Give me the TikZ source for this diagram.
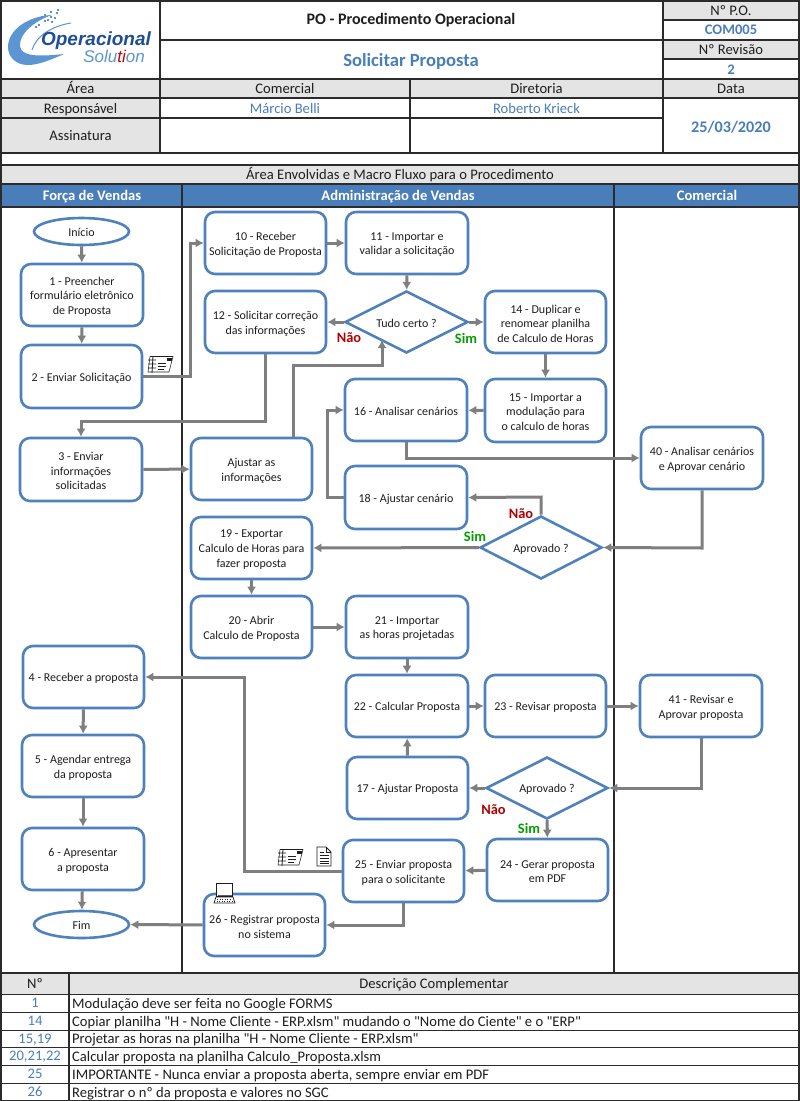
\documentclass[tikz,border=0pt]{standalone}
\usepackage{fontspec}
\setmainfont{Carlito}
\newfontfamily\qfont{Carlito}
\newfontfamily\logofont{Liberation Sans}
\usetikzlibrary{shapes.geometric,arrows.meta,calc}
\definecolor{boxblue}{HTML}{4F81BD}
\definecolor{headblue}{HTML}{4A7EBB}
\definecolor{conn}{HTML}{7F7F7F}
\definecolor{cellgray}{HTML}{E4E4E4}
\definecolor{rule}{HTML}{2B2B2B}
\definecolor{ink}{HTML}{1E1E1E}
\definecolor{logoblue}{HTML}{5B96D2}
\definecolor{logodark}{HTML}{1F4E96}
\newcommand{\fsz}[2]{\fontsize{#1}{#2}\selectfont}
\tikzset{
  x=1pt,y=-1pt,
  flowbox/.style={draw=boxblue,line width=2.6pt,fill=white,rounded corners=10pt,inner sep=0pt},
  flowterm/.style={draw=boxblue,line width=2.6pt,fill=white,ellipse,inner sep=0pt},
  flowdec/.style={draw=boxblue,line width=2.6pt,fill=white,diamond,aspect=1.97,inner sep=0pt},
  flowtext/.style={align=center,inner sep=0pt,text=ink,font=\fsz{12}{14.7}},
  link/.style={draw=conn,line width=3pt,-{Latex[length=8pt,width=9pt]}},
  txtbase/.style={inner sep=0pt,text height=9pt,text depth=3pt,yshift=-1.5pt},
  cell/.style={txtbase,text=ink,font=\fsz{14.6}{17}},
  bluecell/.style={txtbase,text=headblue,font=\fsz{14.6}{17}},
  bluebold/.style={txtbase,text=headblue,font=\fsz{14.6}{17}\bfseries},
  lane/.style={txtbase,text=white,font=\fsz{14.6}{17}\bfseries},
  rownum/.style={txtbase,text=headblue,font=\fsz{14.6}{17}},
  rowtext/.style={txtbase,text=ink,anchor=west,font=\qfont\fsz{14.6}{17}},
  nao/.style={txtbase,text=red!70!black,font=\fsz{14.4}{17}\bfseries},
  sim/.style={txtbase,text=green!62!black,font=\fsz{14.4}{17}\bfseries},
  grid/.style={draw=rule,line width=1.5pt},
  icon/.style={draw=ink,line width=.55pt},
}
% box: kind, name, x1, y1, x2, y2, text
\newcommand{\fl}[7]{%
  \pgfmathsetmacro{\cx}{(#3+#5)/2}\pgfmathsetmacro{\cy}{(#4+#6)/2}%
  \pgfmathsetmacro{\bw}{#5-#3}\pgfmathsetmacro{\bh}{#6-#4}%
  \node[#1,minimum width=\bw pt,minimum height=\bh pt] (#2) at (\cx,\cy) {};
  \node[flowtext] (#2t) at ([yshift=-1.6pt]#2.center) {#7};}
\newcommand{\envel}[2]{%
  \begin{scope}[shift={(#1,#2)}]
    \draw[icon,fill=white] (2,0.5) -- (25,0.5) -- (21,16) -- (0,16) -- cycle;
    \fill[ink] (19,1.5) rectangle (24,5);
    \draw[icon,line width=.8pt] (5,0) -- (4,17) (0,4) -- (8,4) (0,8) -- (8,8) (0,12) -- (8,12);
    \draw[icon,line width=.8pt] (10,7) -- (18,7) (10,10) -- (18,10) (10,13) -- (16,13);
  \end{scope}}
\begin{document}
\begin{tikzpicture}
\useasboundingbox (0,0) rectangle (800,1101);
\fill[white] (0,0) rectangle (800,1101);
% grey and blue cells
\fill[cellgray] (1,79) rectangle (799,98) (1,98) rectangle (160,153)
  (663,1) rectangle (799,20) (663,40) rectangle (799,59)
  (1,165) rectangle (799,184) (1,973) rectangle (799,994);
\fill[headblue] (1,184) rectangle (799,207);
% table rules
\draw[grid] (1,1) rectangle (799,1101);
\draw[grid] (160,1) -- (160,153) (663,1) -- (663,153) (410,79) -- (410,153);
\draw[grid] (160,40) -- (799,40) (663,20) -- (799,20) (663,59) -- (799,59);
\draw[grid] (1,79) -- (799,79) (1,98) -- (799,98) (1,118) -- (663,118) (1,153) -- (799,153);
\draw[grid] (1,165) -- (799,165) (1,184) -- (799,184) (1,207) -- (799,207);
\draw[grid] (182,184) -- (182,973) (614,184) -- (614,973);
\draw[grid] (1,973) -- (799,973) (69,973) -- (69,1101);
\draw[grid,line width=1pt] (1,994) -- (799,994) (1,1012) -- (799,1012) (1,1030) -- (799,1030)
  (1,1047) -- (799,1047) (1,1065) -- (799,1065) (1,1083) -- (799,1083);
% logo
\fill[logoblue] (8,47) .. controls (8,30) and (28,16) .. (52,15) .. controls (34,21) and (19,34) .. (20,46) .. controls (21,56) and (36,57) .. (64,54) .. controls (46,62) and (36,65) .. (28,65) .. controls (16,65) and (8,57) .. (8,47) -- cycle;
\draw[logoblue,line width=1pt] (32,50) .. controls (36,36) and (52,26) .. (71,23);
\foreach \a/\b in {50/11,56/12,44/14,50/16,38/17,44/20,33/22,38/24,47/19,41/16,54/17,35/26,51/21,57/9}{\fill[logoblue] (\a,\b) rectangle +(2.4,2.4);}
\node[inner sep=0pt,text=logodark,font=\logofont\fsz{19}{20}\bfseries\itshape] (logoa) at (96,41) {Operacional};
\node[inner sep=0pt,text=logoblue,font=\logofont\fsz{17}{18}\itshape] (logob) at (114,56) {Solu{\color{red!80!black}ti}on};
% header text
\node[text=ink,txtbase,font=\fsz{16}{18}\bfseries] (t1) at (411,20) {PO - Procedimento Operacional};
\node[text=headblue,txtbase,text height=11pt,text depth=4pt,yshift=-1pt,font=\fsz{18.6}{20}\bfseries] (t2) at (411,60) {Solicitar Proposta};
\node[cell] (c1) at (731,10.5) {Nº P.O.};
\node[bluebold] (c2) at (731,30) {COM005};
\node[cell] (c3) at (731,50) {Nº Revisão};
\node[bluebold] (c4) at (731,69.5) {2};
\node[cell] (h1) at (80.5,89) {Área};
\node[cell] (h2) at (285,89) {Comercial};
\node[cell] (h3) at (536.5,89) {Diretoria};
\node[cell] (h4) at (731,89) {Data};
\node[cell] (r1) at (80.5,108.5) {Responsável};
\node[bluecell] (r2) at (285,108.5) {Márcio Belli};
\node[bluecell] (r3) at (536.5,108.5) {Roberto Krieck};
\node[cell] (r4) at (80.5,136) {Assinatura};
\node[text=headblue,txtbase,font=\fsz{16.2}{18}\bfseries] (r5) at (731,127.5) {25/03/2020};
\node[cell] (m0) at (400,175) {Área Envolvidas e Macro Fluxo para o Procedimento};
\node[lane] (l1) at (92,196) {Força de Vendas};
\node[lane] (l2) at (398,196) {Administração de Vendas};
\node[lane] (l3) at (707,196) {Comercial};
% flow nodes
\fl{flowterm}{ini}{34}{218}{129}{245}{\raisebox{1.5pt}{Início}}
\fl{flowbox}{n1}{21}{264}{143}{326}{1 - Preencher\\formulário eletrônico\\de Proposta}
\fl{flowbox}{n2}{21}{345}{142}{408}{2 - Enviar Solicitação}
\fl{flowbox}{n3}{20}{438}{142}{501}{3 - Enviar\\informações\\solicitadas}
\fl{flowbox}{aj}{191}{438}{312}{500}{Ajustar as\\informações}
\fl{flowbox}{n10}{205}{212}{326}{274}{10 - Receber\\Solicitação de Proposta}
\fl{flowbox}{n11}{346}{212}{468}{274}{11 - Importar e\\validar a solicitação}
\fl{flowbox}{n12}{205}{291}{326}{353}{12 - Solicitar correção\\das informações}
\fl{flowdec}{d1}{345}{291}{468}{353}{Tudo certo ?}
\fl{flowbox}{n14}{485}{291}{606}{353}{14 - Duplicar e\\renomear planilha\\de Calculo de Horas}
\fl{flowbox}{n15}{485}{379}{606}{442}{15 - Importar a\\modulação para\\o calculo de horas}
\fl{flowbox}{n16}{345}{379}{467}{441}{16 - Analisar cenários}
\fl{flowbox}{n18}{345}{466}{467}{529}{18 - Ajustar cenário}
\fl{flowbox}{n40}{641}{427}{763}{489}{40 - Analisar cenários\\e Aprovar cenário}
\fl{flowdec}{d2}{480}{516}{602}{579}{Aprovado ?}
\fl{flowbox}{n19}{191}{517}{312}{579}{19 - Exportar\\Calculo de Horas para\\fazer proposta}
\fl{flowbox}{n20}{191}{596}{312}{658}{20 - Abrir\\Calculo de Proposta}
\fl{flowbox}{n21}{346}{596}{468}{658}{21 - Importar\\as horas projetadas}
\fl{flowbox}{n22}{346}{675}{468}{737}{22 - Calcular Proposta}
\fl{flowbox}{n23}{485}{675}{606}{737}{23 - Revisar proposta}
\fl{flowbox}{n41}{640}{675}{762}{737}{41 - Revisar e\\Aprovar proposta}
\fl{flowbox}{n17}{347}{757}{468}{819}{17 - Ajustar Proposta}
\fl{flowdec}{d3}{486}{757}{608}{819}{Aprovado ?}
\fl{flowbox}{n24}{487}{839}{608}{901}{24 - Gerar proposta\\em PDF}
\fl{flowbox}{n25}{343}{840}{464}{902}{25 - Enviar proposta\\para o solicitante}
\fl{flowbox}{n26}{204}{894}{325}{956}{26 - Registrar proposta\\no sistema}
\fl{flowbox}{n4}{23}{646}{144}{708}{4 - Receber a proposta}
\fl{flowbox}{n5}{22}{735}{144}{797}{5 - Agendar entrega\\da proposta}
\fl{flowbox}{n6}{22}{828}{144}{890}{6 - Apresentar\\a proposta}
\fl{flowterm}{fim}{34}{911}{129}{938}{\raisebox{.7pt}{Fim}}
% connectors
\draw[link] (ini) -- (n1);
\draw[link] (n1) -- (n2);
\draw[link] (n2.east) -- (190,376.5) -- (190,243) -- (n10.west);
\draw[link] (n10) -- (n11);
\draw[link] (n11) -- (d1);
\draw[link] (d1) -- (n12);
\draw[link] (d1) -- (n14);
\draw[link] (n14) -- (n15);
\draw[link] (n15) -- (n16);
\draw[link] (n12.south) -- (265.5,421) -- (81,421) -- (n3.north);
\draw[link] (n3) -- (aj);
\draw[link] ([xshift=41.5pt]aj.north) -- (293,365) -- (382,365) -- (382,340);
\draw[link] (n16.south) -- (406,458) -- (n40.west |- 0,458);
\draw[link] (n40.south) -- (702,548) -- (d2.east);
\draw[link] (d2.north) -- (541,497) -- (n18.east);
\draw[link] (n18.west) -- (327,497.5) -- (327,410) -- (n16.west);
\draw[link] (d2) -- (n19);
\draw[link] (n19) -- (n20);
\draw[link] (n20) -- (n21);
\draw[link] (n21) -- (n22);
\draw[link] (n22) -- (n23);
\draw[link] (n23) -- (n41);
\draw[link] (n41.south) -- (701,788) -- (d3.east);
\draw[link] (d3) -- (n17);
\draw[link] (n17) -- (n22);
\draw[link] (d3) -- (n24);
\draw[link] (n24) -- (n25);
\draw[link] (n25.west) -- (244,871) -- (244,677) -- (n4.east |- 0,677);
\draw[link] (n25.south) -- (403.5,925) -- (n26.east);
\draw[link] (n26) -- (fim);
\draw[link] (n4) -- (n5);
\draw[link] (n5) -- (n6);
\draw[link] (n6) -- (fim);
% decision labels
\node[nao] (la) at (349,338) {Não};
\node[sim] (lb) at (466,339) {Sim};
\node[nao] (lc) at (521,513.5) {Não};
\node[sim] (ld) at (475,537) {Sim};
\node[nao] (le) at (493.5,809.5) {Não};
\node[sim] (lf) at (529,829) {Sim};
% icons
\envel{148}{356}
\envel{278}{849}
\begin{scope}[shift={(317,847)}]
  \draw[icon,fill=white,line width=.8pt] (0,0) -- (9,0) -- (14,5) -- (14,19) -- (0,19) -- cycle;
  \draw[icon,line width=.6pt] (9,0) -- (9,5) -- (14,5) (2.5,5) -- (7,5) (2.5,8) -- (11.5,8) (2.5,11) -- (11.5,11) (2.5,14) -- (11.5,14) (2.5,16.5) -- (11.5,16.5);
\end{scope}
\begin{scope}[shift={(214,883)}]
  \draw[icon,fill=white,line width=1pt] (2.5,0.5) rectangle (18.5,13);
  \fill[ink!70] (3.5,12) rectangle (17.5,13);
  \draw[icon,fill=white,line width=.7pt] (2,14) -- (19,14) -- (21,20) -- (0,20) -- cycle;
  \draw[icon,dotted,line width=1pt] (3,16) -- (18,16) (2.5,18) -- (18.5,18);
\end{scope}
% complementary table
\node[cell] (tn) at (35,984) {Nº};
\node[cell] (td) at (434,984) {Descrição Complementar};
\node[rownum] (a1) at (35,1003) {1};
\node[rowtext] (b1) at (72,1003.5) {Modulação deve ser feita no Google FORMS};
\node[rownum] (a2) at (35,1021) {14};
\node[rowtext] (b2) at (72,1021.5) {Copiar planilha "H - Nome Cliente - ERP.xlsm" mudando o "Nome do Ciente" e o "ERP"};
\node[rownum] (a3) at (35,1038.5) {15,19};
\node[rowtext] (b3) at (72,1039) {Projetar as horas na planilha "H - Nome Cliente - ERP.xlsm"};
\node[rownum] (a4) at (35,1056) {20,21,22};
\node[rowtext] (b4) at (72,1056.5) {Calcular proposta na planilha Calculo\_Proposta.xlsm};
\node[rownum] (a5) at (35,1074) {25};
\node[rowtext] (b5) at (72,1074.5) {IMPORTANTE - Nunca enviar a proposta aberta, sempre enviar em PDF};
\node[rownum] (a6) at (35,1092) {26};
\node[rowtext] (b6) at (72,1092.5) {Registrar o nº da proposta e valores no SGC};
\end{tikzpicture}
\end{document}
